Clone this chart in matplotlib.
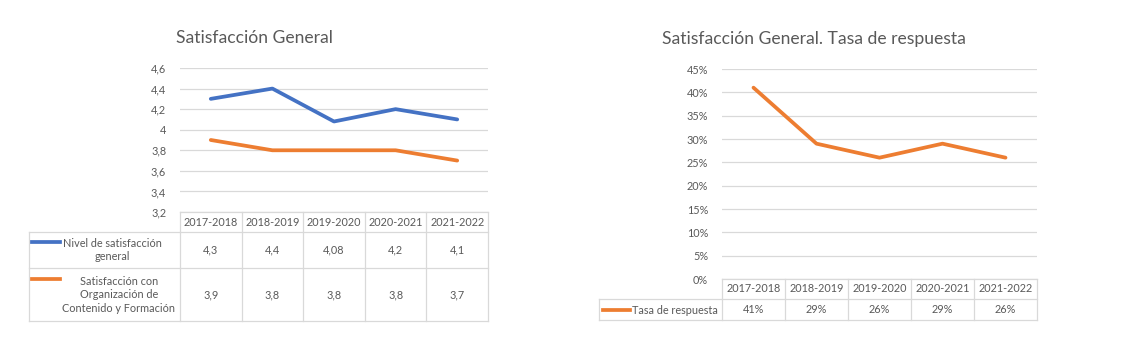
import matplotlib
matplotlib.use("Agg")
import matplotlib.pyplot as plt
from matplotlib.ticker import FuncFormatter, MultipleLocator
from matplotlib.transforms import blended_transform_factory
from matplotlib.lines import Line2D

plt.rcParams['font.family'] = ['Lato', 'DejaVu Sans']

categories = ["2017-2018", "2018-2019", "2019-2020", "2020-2021", "2021-2022"]
nivel_general = [4.3, 4.4, 4.08, 4.2, 4.1]
nivel_general_labels = ["4,3", "4,4", "4,08", "4,2", "4,1"]
org_contenido = [3.9, 3.8, 3.8, 3.8, 3.7]
org_contenido_labels = ["3,9", "3,8", "3,8", "3,8", "3,7"]
tasa_respuesta = [41, 29, 26, 29, 26]
tasa_labels = ["41%", "29%", "26%", "29%", "26%"]

series_left = [
    ("Nivel de satisfacción\ngeneral", nivel_general, nivel_general_labels, "#4472C4"),
    ("Satisfacción con\nOrganización de\nContenido y Formación", org_contenido, org_contenido_labels, "#ED7D31"),
]
series_right = [
    ("Tasa de respuesta", tasa_respuesta, tasa_labels, "#ED7D31"),
]

W, H = 1134, 343
fig = plt.figure(figsize=(W / 100, H / 100), dpi=100)
fig.patch.set_facecolor("white")

GRID = "#d9d9d9"
TXT = "#595959"
FS = 7.8
LW = 2.7


def px_axes(x0, y0, x1, y1):
    return fig.add_axes([x0 / W, 1 - y1 / H, (x1 - x0) / W, (y1 - y0) / H])


def draw_chart(ax_box, title, title_xy, ylim, ystep, yfmt, series, table_left, header_h, row_hs,
               line_offsets, text_center):
    x0, y0, x1, y1 = ax_box
    ax = px_axes(x0, y0, x1, y1)
    n = len(categories)
    for label, vals, labs, color in series:
        ax.plot(range(n), vals, color=color, lw=LW, solid_capstyle='round', solid_joinstyle='round', zorder=3)
    ax.set_xlim(-0.5, n - 0.5)
    ax.set_ylim(*ylim)
    ax.yaxis.set_major_locator(MultipleLocator(ystep))
    ax.yaxis.set_major_formatter(FuncFormatter(yfmt))
    ax.grid(axis='y', color=GRID, lw=0.9)
    ax.set_axisbelow(True)
    for s in ax.spines.values():
        s.set_visible(False)
    ax.tick_params(axis='y', length=0, pad=10, labelsize=FS, labelcolor=TXT)
    ax.set_xticks([])
    fig.text(title_xy[0] / W, 1 - title_xy[1] / H, title, ha='center', va='center',
             fontsize=12.6, color=TXT)

    ph = y1 - y0
    tr = blended_transform_factory(ax.transData, ax.transAxes)
    col_w = (x1 - x0) / n
    left_data = -0.5 - (x0 - table_left) / col_w

    def fy(py):
        return (y1 - py) / ph

    bottom_header = y1 + header_h
    row_bounds = [bottom_header]
    for h in row_hs:
        row_bounds.append(row_bounds[-1] + h)

    lk = dict(color=GRID, lw=0.9, transform=tr, clip_on=False)
    ax.add_line(Line2D([-0.5, n - 0.5], [fy(y1), fy(y1)], **lk))
    for i in range(n + 1):
        ax.add_line(Line2D([i - 0.5, i - 0.5], [fy(y1), fy(row_bounds[-1])], **lk))
    ax.add_line(Line2D([left_data, left_data], [fy(bottom_header), fy(row_bounds[-1])], **lk))
    for b in row_bounds:
        ax.add_line(Line2D([left_data, n - 0.5], [fy(b), fy(b)], **lk))
    for i, c in enumerate(categories):
        ax.text(i, fy(y1 + header_h / 2), c, transform=tr, ha='center', va='center',
                fontsize=FS, color=TXT, clip_on=False)
    for r, (label, vals, labs, color) in enumerate(series):
        top = row_bounds[r]
        bot = row_bounds[r + 1]
        mid = (top + bot) / 2
        for i, lab in enumerate(labs):
            ax.text(i, fy(mid), lab, transform=tr, ha='center', va='center',
                    fontsize=FS, color=TXT, clip_on=False)
        lx0, lx1, ly = line_offsets[r]
        ax.add_line(Line2D([left_data + (lx0 - table_left) / col_w, left_data + (lx1 - table_left) / col_w],
                           [fy(ly), fy(ly)], color=color, lw=LW, transform=tr, clip_on=False))
        tcx, tcy = text_center[r]
        ax.text(left_data + (tcx - table_left) / col_w, fy(tcy), label, transform=tr,
                ha='center', va='center', fontsize=FS, color=TXT, clip_on=False,
                multialignment='center', linespacing=1.25)
    return ax


draw_chart((180, 68, 488, 212), "Satisfacción General", (254, 38), (3.2, 4.6), 0.2,
           lambda v, p: ('%g' % round(v, 2)).replace('.', ','),
           series_left, table_left=29, header_h=20, row_hs=[36, 53],
           line_offsets=[(32, 60, 242), (32, 60, 279)],
           text_center=[(112, 250), (119, 295)])

draw_chart((722, 69, 1037, 279), "Satisfacción General. Tasa de respuesta", (814, 39), (0, 45), 5,
           lambda v, p: '%d%%' % round(v),
           series_right, table_left=599, header_h=20, row_hs=[21],
           line_offsets=[(603, 630, 310)],
           text_center=[(675, 310)])

fig.savefig("out.png", dpi=100, facecolor="white")
